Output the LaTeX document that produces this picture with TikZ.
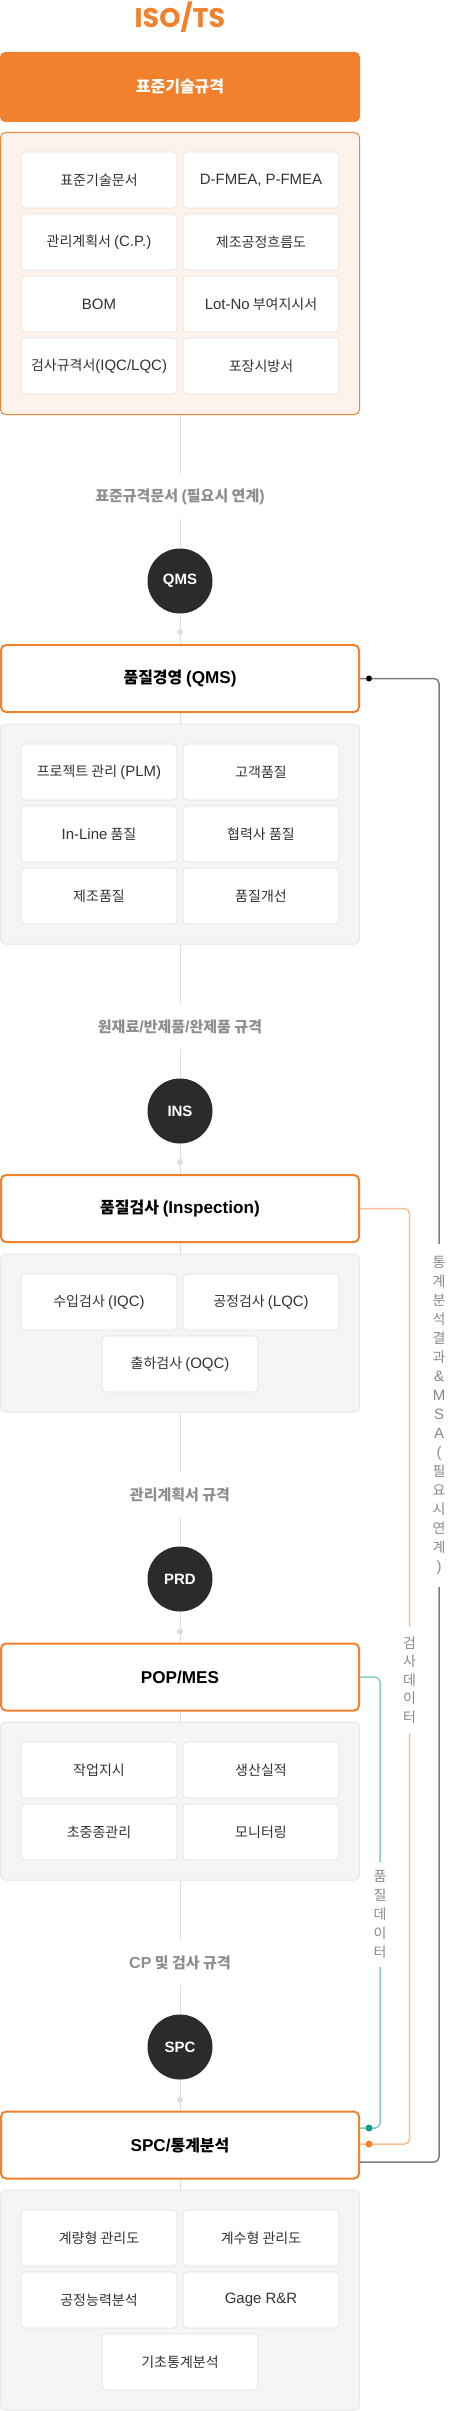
\documentclass[tikz,border=0pt]{standalone}
\usepackage{fontspec}
\setmainfont{Noto Sans CJK KR}
\newfontfamily\latfont{Liberation Sans}[Scale=1.07]
\newfontfamily\titlefont{Poppins}
\newcommand\lat[1]{{\latfont #1}}

\definecolor{orangemain}{HTML}{F2812E}
\definecolor{peach}{HTML}{FDF3EB}
\definecolor{peachborder}{HTML}{EE873A}
\definecolor{panelgray}{HTML}{F5F5F5}
\definecolor{panelborder}{HTML}{E6E6E6}
\definecolor{cellborder}{HTML}{E2E2E2}
\definecolor{celltext}{HTML}{333333}
\definecolor{labelgray}{HTML}{8E8E8E}
\definecolor{spinecol}{HTML}{DCDCDC}
\definecolor{circlefill}{HTML}{2B2B2B}
\definecolor{darkline}{HTML}{7E7E7E}
\definecolor{orangeline}{HTML}{F8BE93}
\definecolor{tealline}{HTML}{86CCC5}
\definecolor{tealdot}{HTML}{16988A}
\definecolor{sidetext}{HTML}{8A8A8A}

\begin{document}
\begin{tikzpicture}[x=1pt,y=-1pt,
  cell/.style={draw=cellborder, line width=0.8pt, fill=white, rounded corners=4pt,
    minimum width=156pt, minimum height=56pt, inner sep=0pt, text=celltext,
    font=\fontsize{14}{17}\selectfont},
  peachpanel/.style={draw=peachborder, line width=1pt, fill=peach, rounded corners=5pt,
    minimum width=359pt, inner sep=0pt},
  graypanel/.style={draw=panelborder, line width=1pt, fill=panelgray, rounded corners=5pt,
    minimum width=359pt, inner sep=0pt},
  stagebox/.style={draw=orangemain, line width=2pt, fill=white, rounded corners=5pt,
    minimum width=358pt, minimum height=67pt, inner sep=0pt, text=black,
    font=\fontsize{16}{19}\selectfont\bfseries},
  stagecircle/.style={circle, fill=circlefill, minimum size=65pt, inner sep=0pt,
    text=white, font=\fontsize{14}{17}\selectfont\bfseries},
  flowlabel/.style={minimum height=45pt, inner sep=0pt, text=labelgray,
    font=\fontsize{15}{18}\selectfont\bfseries},
  sidelabel/.style={inner sep=0pt, align=center, text=sidetext,
    font=\fontsize{14}{19}\selectfont},
  spine/.style={draw=spinecol, line width=1pt},
  spinedot/.style={fill=spinecol},
  darkconn/.style={draw=darkline, line width=1.5pt, rounded corners=5pt},
  orangeconn/.style={draw=orangeline, line width=1.5pt, rounded corners=5pt},
  tealconn/.style={draw=tealline, line width=1.5pt, rounded corners=5pt}
]
\useasboundingbox (0,0) rectangle (453,2411);
\fill[white] (0,0) rectangle (453,2411);

% title
\node[inner sep=0pt, text=orangemain, font=\titlefont\fontsize{27}{30}\selectfont\bfseries] (title) at (180,17) {ISO/TS};

% header
\node[fill=orangemain, rounded corners=5pt, minimum width=360pt, minimum height=70pt, inner sep=0pt,
  text=white, font=\fontsize{16}{19}\selectfont\bfseries] (header) at (180,87) {표준기술규격};

% panel 1
\node[peachpanel, minimum height=282pt] (p1) at (180,273.5) {};
\node[cell] (c11) at (99,180) {표준기술문서};
\node[cell] (c12) at (261,180) {\lat{D-FMEA, P-FMEA}};
\node[cell] (c13) at (99,242) {관리계획서 \lat{(C.P.)}};
\node[cell] (c14) at (261,242) {제조공정흐름도};
\node[cell] (c15) at (99,304) {\lat{BOM}};
\node[cell] (c16) at (261,304) {\lat{Lot-No} 부여지시서};
\node[cell] (c17) at (99,366) {검사규격서\lat{(IQC/LQC)}};
\node[cell] (c18) at (261,366) {포장시방서};

% stage 1
\node[flowlabel] (l1) at (180,496.5) {표준규격문서 \lat{(}필요시 연계\lat{)}};
\node[stagecircle] (k1) at (180,581) {\lat{QMS}};
\node[stagebox] (b1) at (180,678.5) {품질경영 \lat{(QMS)}};
\node[graypanel, minimum height=220pt] (p2) at (180,834) {};
\node[cell] (c21) at (99,772) {프로젝트 관리 \lat{(PLM)}};
\node[cell] (c22) at (261,772) {고객품질};
\node[cell] (c23) at (99,834) {\lat{In-Line} 품질};
\node[cell] (c24) at (261,834) {협력사 품질};
\node[cell] (c25) at (99,896) {제조품질};
\node[cell] (c26) at (261,896) {품질개선};

% stage 2
\node[flowlabel] (l2) at (180,1026.5) {원재료\lat{/}반제품\lat{/}완제품 규격};
\node[stagecircle] (k2) at (180,1111) {\lat{INS}};
\node[stagebox] (b2) at (180,1208.5) {품질검사 \lat{(Inspection)}};
\node[graypanel, minimum height=158pt] (p3) at (180,1333) {};
\node[cell] (c31) at (99,1302) {수입검사 \lat{(IQC)}};
\node[cell] (c32) at (261,1302) {공정검사 \lat{(LQC)}};
\node[cell] (c33) at (180,1364) {출하검사 \lat{(OQC)}};

% stage 3
\node[flowlabel] (l3) at (180,1494.5) {관리계획서 규격};
\node[stagecircle] (k3) at (180,1579) {\lat{PRD}};
\node[stagebox] (b3) at (180,1677) {\lat{POP/MES}};
\node[graypanel, minimum height=158pt] (p4) at (180,1801) {};
\node[cell] (c41) at (99,1770) {작업지시};
\node[cell] (c42) at (261,1770) {생산실적};
\node[cell] (c43) at (99,1832) {초중종관리};
\node[cell] (c44) at (261,1832) {모니터링};

% stage 4
\node[flowlabel] (l4) at (180,1962.5) {\lat{CP} 및 검사 규격};
\node[stagecircle] (k4) at (180,2047) {\lat{SPC}};
\node[stagebox] (b4) at (180,2145) {\lat{SPC/}통계분석};
\node[graypanel, minimum height=220pt] (p5) at (180,2300) {};
\node[cell] (c51) at (99,2238) {계량형 관리도};
\node[cell] (c52) at (261,2238) {계수형 관리도};
\node[cell] (c53) at (99,2300) {공정능력분석};
\node[cell] (c54) at (261,2300) {\lat{Gage R\&R}};
\node[cell] (c55) at (180,2362) {기초통계분석};

% spine
\draw[spine] (p1.south) -- (l1.north);
\draw[spine] (l1.south) -- (k1.north);
\draw[spine] (k1.south) -- (b1.north);
\draw[spine] (b1.south) -- (p2.north);
\draw[spine] (p2.south) -- (l2.north);
\draw[spine] (l2.south) -- (k2.north);
\draw[spine] (k2.south) -- (b2.north);
\draw[spine] (b2.south) -- (p3.north);
\draw[spine] (p3.south) -- (l3.north);
\draw[spine] (l3.south) -- (k3.north);
\draw[spine] (k3.south) -- (b3.north);
\draw[spine] (b3.south) -- (p4.north);
\draw[spine] (p4.south) -- (l4.north);
\draw[spine] (l4.south) -- (k4.north);
\draw[spine] (k4.south) -- (b4.north);
\draw[spine] (b4.south) -- (p5.north);
\fill[spinedot] ([yshift=12pt]b1.north) circle (3pt);
\fill[spinedot] ([yshift=12pt]b2.north) circle (3pt);
\fill[spinedot] ([yshift=11pt]b3.north) circle (3pt);
\fill[spinedot] ([yshift=11pt]b4.north) circle (3pt);

% side labels
\node[sidelabel, minimum height=343pt] (v1) at (439,1415.5)
  {통\\계\\분\\석\\결\\과\\\lat{\&}\\\lat{M}\\\lat{S}\\\lat{A}\\\lat{(}\\필\\요\\시\\연\\계\\\lat{)}};
\node[sidelabel, minimum height=106pt, font=\fontsize{14}{18.6}\selectfont] (v2) at (409.5,1680)
  {검\\사\\데\\이\\터};
\node[sidelabel, minimum height=105pt, font=\fontsize{14}{18.8}\selectfont] (v3) at (380,1914.5)
  {품\\질\\데\\이\\터};

% feedback connectors
\draw[darkconn] ([yshift=-17pt]b4.east) -| (v1.south);
\draw[darkconn] (v1.north) |- (b1.east);
\fill[black] ([xshift=9pt]b1.east) circle (3pt);

\draw[orangeconn] (b2.east) -| (v2.north);
\draw[orangeconn] (v2.south) |- ([yshift=1pt]b4.east);
\fill[orangemain] ([xshift=9pt,yshift=1pt]b4.east) circle (3.5pt);

\draw[tealconn] (b3.east) -| (v3.north);
\draw[tealconn] (v3.south) |- ([yshift=17pt]b4.east);
\fill[tealdot] ([xshift=9pt,yshift=17pt]b4.east) circle (3.5pt);
\end{tikzpicture}
\end{document}
